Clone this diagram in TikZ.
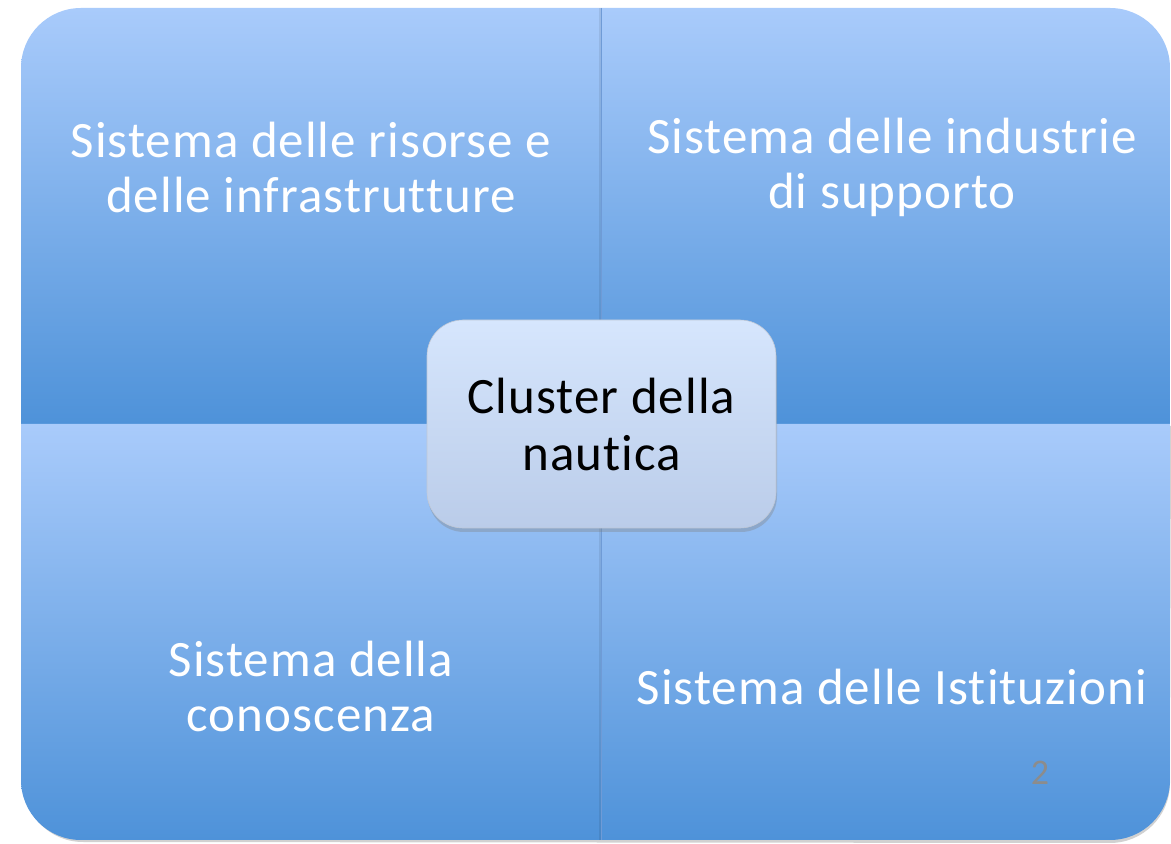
\documentclass[tikz,border=0pt]{standalone}
\usepackage{fontspec}
\setmainfont[LetterSpace=2.0,Ligatures=NoCommon]{Carlito}
\usetikzlibrary{shadows}
\definecolor{qtop}{HTML}{A9CBFB}
\definecolor{qbot}{HTML}{4E92D9}
\definecolor{ctop}{HTML}{D6E6FD}
\definecolor{cbot}{HTML}{BACCE9}
\definecolor{divider}{HTML}{6F9BD6}
\definecolor{pagenum}{HTML}{8C8C8C}
\tikzset{
  quad/.style={top color=qtop, bottom color=qbot, draw=none},
  qtext/.style={text=white, font=\fontsize{51}{55}\selectfont, align=center},
  center/.style={rounded corners=36pt, top color=ctop, bottom color=cbot, draw=cbot!80!black!60,
    line width=0.6pt, minimum width=349pt, minimum height=208pt, inner sep=0pt,
    font=\fontsize{51}{57}\selectfont, align=center, text=black,
    drop shadow={opacity=0.35, shadow xshift=1pt, shadow yshift=-4pt}},
}
\begin{document}
\begin{tikzpicture}[x=1pt,y=1pt]
\useasboundingbox (0,0) rectangle (1171,844);
% shadow of outer shape
\fill[black,opacity=0.18] (23,418) -- (23,62) arc[start angle=180,end angle=270,radius=60] -- (1110,1) arc[start angle=270,end angle=360,radius=60] -- (1171,418) -- cycle;
% quadrants
\path[quad] (21,420) -- (21,776) arc[start angle=180,end angle=90,radius=60] -- (601,836) -- (601,420) -- cycle;
\path[quad] (601,420) -- (601,836) -- (1110,836) arc[start angle=90,end angle=0,radius=60] -- (1170,420) -- cycle;
\path[quad] (601,420) -- (21,420) -- (21,64) arc[start angle=180,end angle=270,radius=60] -- (601,4) -- cycle;
\path[quad] (601,420) -- (601,4) -- (1110,4) arc[start angle=270,end angle=360,radius=60] -- (1170,420) -- cycle;
% divider
\coordinate (dtop) at (601,836);
\coordinate (dbot) at (601,4);
\draw[divider, line width=1pt] (dtop) -- (dbot);
\draw[black, opacity=0.08, line width=2pt] ([xshift=-1.5pt]dtop) -- ([xshift=-1.5pt]dbot);
% texts
\node[qtext] (tl) at (311,677) {Sistema delle risorse e\\delle infrastrutture};
\node[qtext] (tr) at (892,677) {Sistema delle industrie\\di supporto};
\node[qtext] (bl) at (311,158) {Sistema della\\conoscenza};
\node[qtext] (br) at (892,157) {Sistema delle Istituzioni};
\node[text=pagenum, font=\fontsize{36}{40}\selectfont] (num) at (1040,71) {2};
% center
\node[center] (c) at (601.5,420) {Cluster della\\nautica};
\end{tikzpicture}
\end{document}
